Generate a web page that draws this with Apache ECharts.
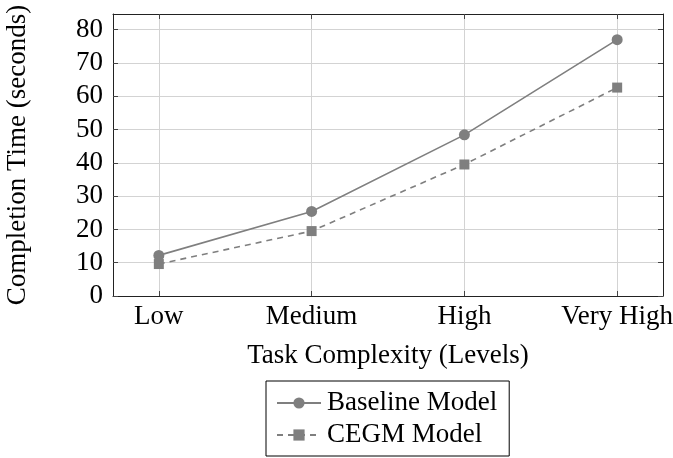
<!DOCTYPE html>
<html>
<head>
<meta charset="utf-8">
<script src="https://cdn.jsdelivr.net/npm/echarts@6/dist/echarts.min.js"></script>
<style>html,body{margin:0;padding:0;background:#fff}#c{width:673px;height:458px}</style>
</head>
<body>
<div id="c"></div>
<script>
const categories = ['Low', 'Medium', 'High', 'Very High'];
const baseline = [12.2, 25.4, 48.4, 77.0];
const cegm = [9.6, 19.5, 39.5, 62.6];
const yTicks = [0, 10, 20, 30, 40, 50, 60, 70, 80];
const seriesNames = ['Baseline Model', 'CEGM Model'];

const xIdx = categories.map((_, i) => i);
const font = 'Liberation Serif';
const fs = 27;
const gray = '#7f7f7f';
const tickColor = '#444';

const chart = echarts.init(document.getElementById('c'));
const commonX = {
  type: 'value', min: -0.3, max: 3.3,
  axisLine: { show: true, onZero: false, lineStyle: { color: '#222', width: 1 } },
  axisTick: { show: true, inside: true, length: 5, customValues: xIdx, lineStyle: { color: tickColor } },
  axisLabel: { show: false, customValues: xIdx },
  splitLine: { show: false }
};
const commonY = {
  type: 'value', min: 0, max: 84.7,
  axisLine: { show: true, onZero: false, lineStyle: { color: '#222', width: 1 } },
  axisTick: { show: true, inside: true, length: 5, customValues: yTicks, lineStyle: { color: tickColor } },
  axisLabel: { show: false, customValues: yTicks },
  splitLine: { show: false }
};
chart.setOption({
  animation: false,
  grid: { left: 113, right: 10, top: 14, bottom: 162, outerBoundsMode: 'none', containLabel: false },
  xAxis: [
    Object.assign({}, commonX, {
      position: 'bottom',
      axisLabel: { show: true, customValues: xIdx, formatter: v => categories[Math.round(v)] ?? '', color: '#000', fontFamily: font, fontSize: fs, margin: 7 },
      splitLine: { show: true, lineStyle: { color: '#d3d3d3', width: 1 } },
      name: 'Task Complexity (Levels)', nameLocation: 'middle', nameGap: 46,
      nameTextStyle: { color: '#000', fontFamily: font, fontSize: fs }
    }),
    Object.assign({}, commonX, { position: 'top' })
  ],
  yAxis: [
    Object.assign({}, commonY, {
      position: 'left',
      axisLabel: { show: true, customValues: yTicks, color: '#000', fontFamily: font, fontSize: fs, margin: 10 },
      splitLine: { show: true, lineStyle: { color: '#d3d3d3', width: 1 } },
      name: 'Completion Time (seconds)', nameLocation: 'middle', nameGap: 82,
      nameTextStyle: { color: '#000', fontFamily: font, fontSize: fs }
    }),
    Object.assign({}, commonY, { position: 'right' })
  ],
  legend: {
    orient: 'vertical', left: 266, top: 381,
    backgroundColor: '#fff', borderColor: '#000', borderWidth: 1, borderRadius: 0,
    padding: [7, 12, 6, 10], itemGap: 2, itemWidth: 44, itemHeight: 14,
    textStyle: { color: '#000', fontFamily: font, fontSize: fs, lineHeight: 30, padding: [0, 0, 0, 1] },
    data: seriesNames
  },
  series: [
    {
      name: seriesNames[0], type: 'line', xAxisIndex: 0, yAxisIndex: 0,
      data: baseline.map((v, i) => [xIdx[i], v]),
      symbol: 'circle', symbolSize: 11,
      lineStyle: { color: gray, width: 1.6, type: 'solid' },
      itemStyle: { color: gray }
    },
    {
      name: seriesNames[1], type: 'line', xAxisIndex: 0, yAxisIndex: 0,
      data: cegm.map((v, i) => [xIdx[i], v]),
      symbol: 'rect', symbolSize: 10,
      lineStyle: { color: gray, width: 1.6, type: [6, 5] },
      itemStyle: { color: gray }
    }
  ]
});
</script>
</body>
</html>
